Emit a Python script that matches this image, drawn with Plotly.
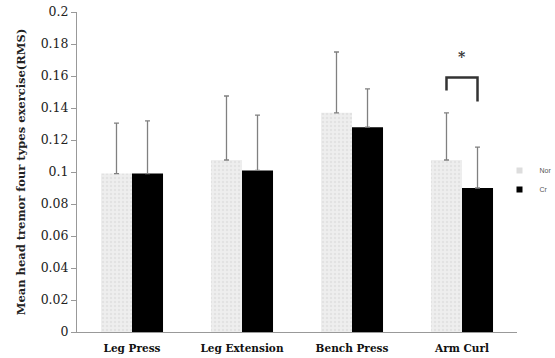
import plotly.graph_objects as go

categories = ["Leg Press", "Leg Extension", "Bench Press", "Arm Curl"]
nor_values = [0.099, 0.1075, 0.137, 0.1075]
nor_err = [0.0316, 0.040, 0.038, 0.0295]
cr_values = [0.099, 0.101, 0.128, 0.090]
cr_err = [0.033, 0.0346, 0.024, 0.0256]
y_ticks = [0, 0.02, 0.04, 0.06, 0.08, 0.1, 0.12, 0.14, 0.16, 0.18, 0.2]
y_ticktext = ["0", "0.02", "0.04", "0.06", "0.08", "0.1", "0.12", "0.14", "0.16", "0.18", "0.2"]

serif = "DejaVu Serif, Liberation Serif, serif"
nor_color = "#ececec"
cr_color = "#000000"
err_style = dict(type="data", symmetric=False, arrayminus=[0]*4, color="#808080",
                 thickness=1.3, width=2.5)

fig = go.Figure()
fig.add_trace(go.Bar(
    x=categories, y=nor_values, name="Nor", showlegend=False,
    marker=dict(color=nor_color, line=dict(width=0),
                pattern=dict(shape=".", fgcolor="#d6d6d6", bgcolor="#eeeeee", size=4, solidity=0.3)),
    error_y=dict(array=nor_err, **err_style),
))
fig.add_trace(go.Bar(
    x=categories, y=cr_values, name="Cr", showlegend=False,
    marker=dict(color=cr_color, line=dict(width=0)),
    error_y=dict(array=cr_err, **err_style),
))
# small square legend entries (like the reference)
for nm, col in [("Nor", "#dddddd"), ("Cr", cr_color)]:
    fig.add_trace(go.Scatter(x=[None], y=[None], mode="markers", name=nm,
                             marker=dict(symbol="square", size=6, color=col)))

# significance bracket for Arm Curl
idx = 3
off = 0.141
top = 0.159
fig.add_shape(type="path", xref="x", yref="y",
              path=f"M {idx-off},0.151 L {idx-off},{top} L {idx+off},{top} L {idx+off},0.144",
              line=dict(color="#333333", width=2.5))
fig.add_annotation(x=idx, y=0.172, xref="x", yref="y", text="<b>*</b>", showarrow=False,
                   font=dict(family=serif, size=14, color="#333333"))

fig.update_layout(
    width=555, height=358,
    margin=dict(l=77, r=38, t=12, b=26, autoexpand=False),
    paper_bgcolor="white", plot_bgcolor="white",
    barmode="group", bargap=0.436, bargroupgap=0,
    showlegend=True,
    legend=dict(xref="container", yref="container", x=0.9, y=0.497,
                xanchor="left", yanchor="middle",
                font=dict(family="Arial, Liberation Sans, sans-serif", size=7, color="#555555"),
                itemwidth=30, tracegroupgap=0, bgcolor="rgba(0,0,0,0)"),
    font=dict(family=serif),
)
fig.update_xaxes(
    type="category", showline=True, linecolor="#999999", linewidth=1,
    ticks="", showgrid=False, ticklabelstandoff=6,
    tickfont=dict(family=serif, size=10.5, color="#111111", weight="bold"),
)
fig.update_yaxes(
    range=[0, 0.2], tickvals=y_ticks, ticktext=y_ticktext,
    showline=True, linecolor="#999999", linewidth=1,
    ticks="outside", ticklen=5, tickcolor="#999999",
    showgrid=False, zeroline=False,
    tickfont=dict(family=serif, size=12.5, color="#222222"),
    title=dict(text="Mean head tremor four types exercise(RMS)",
               font=dict(family=serif, size=11.5, color="#222222", weight="bold"), standoff=12),
)
fig.write_html("out.html")
